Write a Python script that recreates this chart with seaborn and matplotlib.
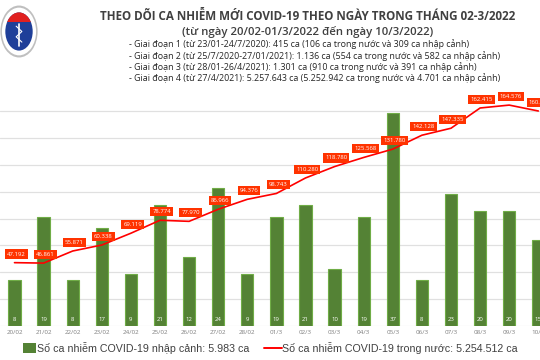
import matplotlib
matplotlib.use("Agg")
import matplotlib.pyplot as plt
import seaborn as sns
import numpy as np
from matplotlib.patches import Circle, Rectangle

# ---------------- data ----------------
days = ["20/02", "21/02", "22/02", "23/02", "24/02", "25/02", "26/02", "27/02", "28/02",
        "01/3", "02/3", "03/3", "04/3", "05/3", "06/3", "07/3", "08/3", "09/3", "10/3"]
imported = [8, 19, 8, 17, 9, 21, 12, 24, 9, 19, 21, 10, 19, 37, 8, 23, 20, 20, 15]
domestic = [47192, 46861, 55871, 60338, 69119, 78774, 77970, 86966, 94376, 98743,
            110280, 118780, 125568, 131780, 142128, 147335, 162415, 164576, 160185]
grid_values = [20000, 40000, 60000, 80000, 100000, 120000, 140000, 160000]

title = "THEO DÕI CA NHIỄM MỚI COVID-19 THEO NGÀY TRONG THÁNG 02-3/2022"
subtitle = "(từ ngày 20/02-01/3/2022 đến ngày 10/3/2022)"
notes = [
    "- Giai đoạn 1 (từ 23/01-24/7/2020): 415 ca (106 ca trong nước và 309 ca nhập cảnh)",
    "- Giai đoạn 2 (từ 25/7/2020-27/01/2021): 1.136 ca (554 ca trong nước và 582 ca nhập cảnh)",
    "- Giai đoạn 3 (từ 28/01-26/4/2021): 1.301 ca (910 ca trong nước và 391 ca nhập cảnh)",
    "- Giai đoạn 4 (từ 27/4/2021): 5.257.643 ca (5.252.942 ca trong nước và 4.701 ca nhập cảnh)",
]
legend_bar = "Số ca nhiễm COVID-19 nhập cảnh: 5.983 ca"
legend_line = "Số ca nhiễm COVID-19 trong nước: 5.254.512 ca"

# ---------------- style ----------------
sns.set_theme(style="white")
plt.rcParams["font.family"] = ["Open Sans", "DejaVu Sans"]

W, H = 540, 360
fig = plt.figure(figsize=(W / 100, H / 100), dpi=100)
fig.patch.set_facecolor("white")

def fx(px):
    return px / W

def fy(py):
    return 1 - py / H

BAR_C = "#548235"
EDGE_C = "#70AD47"
RED = "#FF0000"
LABEL_C = "#FF3300"

base_px = 326
top_px = 60
line_px_per_unit = 1 / 745.0
bar_px_per_unit = 5.75
line_ymax = (base_px - top_px) / line_px_per_unit
bar_ymax = (base_px - top_px) / bar_px_per_unit

ax_w_px = 19 * 29.1
ax = fig.add_axes([fx(14.5 - 14.55), fy(base_px), fx(ax_w_px), (base_px - top_px) / H])
ax.set_facecolor("none")

sns.barplot(x=days, y=imported, ax=ax, color=BAR_C, saturation=1, width=0.42,
            edgecolor=EDGE_C, linewidth=0.8, zorder=3)
ax.set_ylim(0, bar_ymax)
ax.set_xlim(-0.5, len(days) - 0.5)
for g in grid_values:
    ax.axhline(g / line_ymax * bar_ymax, color="#E0E0E0", lw=0.9, zorder=1)
ax.axhline(0, color="#D9D9D9", lw=0.8, zorder=1)
ax.set_yticks([])
ax.set_xlabel("")
ax.set_ylabel("")
ax.tick_params(axis="x", length=0, pad=3, labelsize=4.5, labelcolor="#7F7F7F")
for s in ax.spines.values():
    s.set_visible(False)

for i, v in enumerate(imported):
    ax.annotate(str(v), (i, 0), xytext=(0, 5), textcoords="offset points",
                ha="center", va="center", color="white", fontsize=4.3, zorder=5)

ax2 = ax.twinx()
sns.pointplot(x=days, y=domestic, ax=ax2, color=RED, marker="", linestyle="-",
              linewidth=1.2, errorbar=None)
ax2.set_ylim(0, line_ymax)
ax2.set_xlim(-0.5, len(days) - 0.5)
ax2.set_yticks([])
ax2.set_ylabel("")
ax2.set_xlabel("")
for s in ax2.spines.values():
    s.set_visible(False)

for i, v in enumerate(domestic):
    ax2.annotate(f"{v:,}".replace(",", "."), (i, v), xytext=(1.2, 6.2),
                 textcoords="offset points", ha="center", va="center",
                 color="white", fontsize=4.3,
                 bbox=dict(boxstyle="square,pad=0.35", fc=LABEL_C, ec="none"),
                 zorder=6)

# ---------------- header text ----------------
fig.text(fx(307.5), fy(16.5), title, ha="center", va="center", fontsize=8.4,
         fontweight="bold", color="#404040")
fig.text(fx(308), fy(32.5), subtitle, ha="center", va="center", fontsize=8.2,
         fontweight="semibold", color="#404040")
for k, t in enumerate(notes):
    fig.text(fx(129), fy(44.5 + k * 11.2), t, ha="left", va="center", fontsize=6.4,
             color="#262626")

# ---------------- legend ----------------
fig.patches.append(Rectangle((fx(23), fy(353)), fx(13), 10 / H, transform=fig.transFigure,
                             facecolor=BAR_C, edgecolor="none"))
fig.text(fx(37), fy(348), legend_bar, ha="left", va="center", fontsize=7.7,
         color="#404040", family=["Liberation Sans", "DejaVu Sans"])
fig.lines.append(plt.Line2D([fx(264), fx(282)], [fy(348), fy(348)], transform=fig.transFigure,
                            color=RED, lw=1.4))
fig.text(fx(282), fy(348), legend_line, ha="left", va="center", fontsize=7.7,
         color="#404040", family=["Liberation Sans", "DejaVu Sans"])

# ---------------- logo ----------------
lax = fig.add_axes([fx(0), fy(58), fx(38), 53 / H])
lax.set_xlim(-1, 1)
lax.set_ylim(-1, 1)
lax.axis("off")
lax.add_patch(Circle((0, 0), 0.98, fc="#BFBFBF", ec="none"))
lax.add_patch(Circle((0, 0), 0.9, fc="white", ec="none"))
lax.add_patch(Circle((0, 0), 0.72, fc="#1F3F99", ec="none"))
red = Circle((0, 0), 0.72, fc="#E02020", ec="none")
lax.add_patch(red)
clip = Rectangle((-1, 0.35), 2, 1, transform=lax.transData)
red.set_clip_path(clip)
lax.plot([0, 0], [-0.55, 0.3], color="white", lw=1.2)
lax.plot([-0.15, 0.15, -0.15, 0.15], [0.2, 0.0, -0.2, -0.4], color="white", lw=0.8)

fig.savefig("out.png", dpi=100, facecolor="white")
